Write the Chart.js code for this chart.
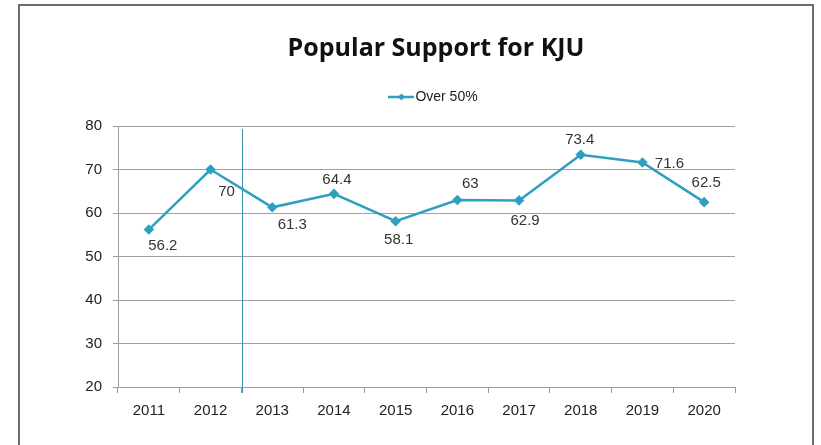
<!DOCTYPE html>
<html>
<head>
<meta charset="utf-8">
<script src="https://cdn.jsdelivr.net/npm/chart.js@4"></script>
<style>
  body { margin: 0; background: #fff; }
  #frame { position: absolute; left: 18px; top: 4px; width: 792px; height: 460px; border: 2px solid #6e6e6e; }
  #wrap { position: absolute; left: 0; top: 0; width: 821px; height: 445px; }
</style>
</head>
<body>
<div id="frame"></div>
<div id="wrap"><canvas id="chart" width="821" height="445"></canvas></div>
<script>
// Chart data
const years = ['2011', '2012', '2013', '2014', '2015', '2016', '2017', '2018', '2019', '2020'];
const over50 = [56.2, 70, 61.3, 64.4, 58.1, 63, 62.9, 73.4, 71.6, 62.5];
const yTicks = [20, 30, 40, 50, 60, 70, 80];

// where each value label sits relative to its point (px)
const labelOffsets = [[14, 16], [16, 22], [20, 18], [3, -14], [3, 19], [13, -16], [6, 20], [-1, -15], [27, 1], [2, -19]];

const lineColor = '#2f9fc0';
const font = 'Liberation Sans';

// legend swatch: short line with a diamond in the middle
function legendSwatch() {
    const c = document.createElement('canvas');
    c.width = 26; c.height = 10;
    const g = c.getContext('2d');
    g.strokeStyle = lineColor;
    g.lineWidth = 2.5;
    g.beginPath(); g.moveTo(0, 5); g.lineTo(26, 5); g.stroke();
    g.fillStyle = lineColor;
    g.beginPath(); g.moveTo(13, 1.5); g.lineTo(16.5, 5); g.lineTo(13, 8.5); g.lineTo(9.5, 5); g.closePath(); g.fill();
    return c;
}

// value labels next to each point
const valueLabels = {
    id: 'valueLabels',
    afterDatasetsDraw(chart) {
        const ctx = chart.ctx;
        const meta = chart.getDatasetMeta(0);
        ctx.save();
        ctx.font = '15px ' + font;
        ctx.fillStyle = '#333';
        ctx.textAlign = 'center';
        ctx.textBaseline = 'middle';
        meta.data.forEach((pt, i) => {
            const [dx, dy] = labelOffsets[i];
            ctx.fillText(String(over50[i]), pt.x + dx, pt.y + dy);
        });
        ctx.restore();
    }
};

// thin divider between 2012 and 2013
const divider = {
    id: 'divider',
    beforeDatasetsDraw(chart) {
        const xs = chart.scales.x, ys = chart.scales.y;
        const x = Math.round(xs.getPixelForValue(1.5)) + 1.5;
        const ctx = chart.ctx;
        ctx.save();
        ctx.strokeStyle = '#3f8fae';
        ctx.lineWidth = 1;
        ctx.beginPath();
        ctx.moveTo(x, ys.getPixelForValue(79.3));
        ctx.lineTo(x, ys.bottom + 6);
        ctx.stroke();
        ctx.restore();
    }
};

new Chart(document.getElementById('chart'), {
    type: 'line',
    data: {
        labels: years,
        datasets: [{
            label: 'Over 50%',
            data: over50,
            borderColor: lineColor,
            backgroundColor: lineColor,
            borderWidth: 2.5,
            pointStyle: 'rectRot',
            pointRadius: 3.5,
            tension: 0
        }]
    },
    options: {
        responsive: false,
        animation: false,
        layout: { padding: { left: 51, right: 0, top: 0, bottom: 0 } },
        plugins: {
            title: {
                display: true,
                text: 'Popular Support for KJU',
                color: '#111',
                font: { family: 'Open Sans', size: 25, weight: 'bold' },
                padding: { top: 34, bottom: 4 }
            },
            legend: {
                labels: {
                    usePointStyle: true,
                    pointStyle: legendSwatch(),
                    pointStyleWidth: 14,
                    color: '#222',
                    font: { family: font, size: 14 },
                    padding: 22
                }
            },
            tooltip: { enabled: false }
        },
        scales: {
            x: {
                offset: true,
                grid: { drawOnChartArea: false, drawTicks: true, tickLength: 6, color: '#9a9a9a', offset: true },
                border: { color: '#9a9a9a' },
                ticks: { color: '#222', font: { family: font, size: 15 }, padding: 9 },
                afterFit(s) { s.height = 58; }
            },
            // empty top axis only to reserve space under the legend
            xTop: {
                type: 'category',
                position: 'top',
                grid: { display: false },
                border: { display: false },
                ticks: { display: false },
                afterFit(s) { s.height = 12; }
            },
            y: {
                min: 20, max: 80,
                afterBuildTicks(s) { s.ticks = yTicks.map(v => ({ value: v })); },
                grid: { color: '#a0a0a0', tickLength: 5 },
                border: { color: '#a0a0a0' },
                ticks: { color: '#222', font: { family: font, size: 15 }, padding: 11 },
                afterFit(s) { s.width = 67; }
            },
            // empty right-hand axis only to reserve the margin
            yRight: {
                position: 'right',
                grid: { display: false },
                border: { display: false },
                ticks: { display: false },
                afterFit(s) { s.width = 86; }
            }
        }
    },
    plugins: [divider, valueLabels]
});
</script>
</body>
</html>
